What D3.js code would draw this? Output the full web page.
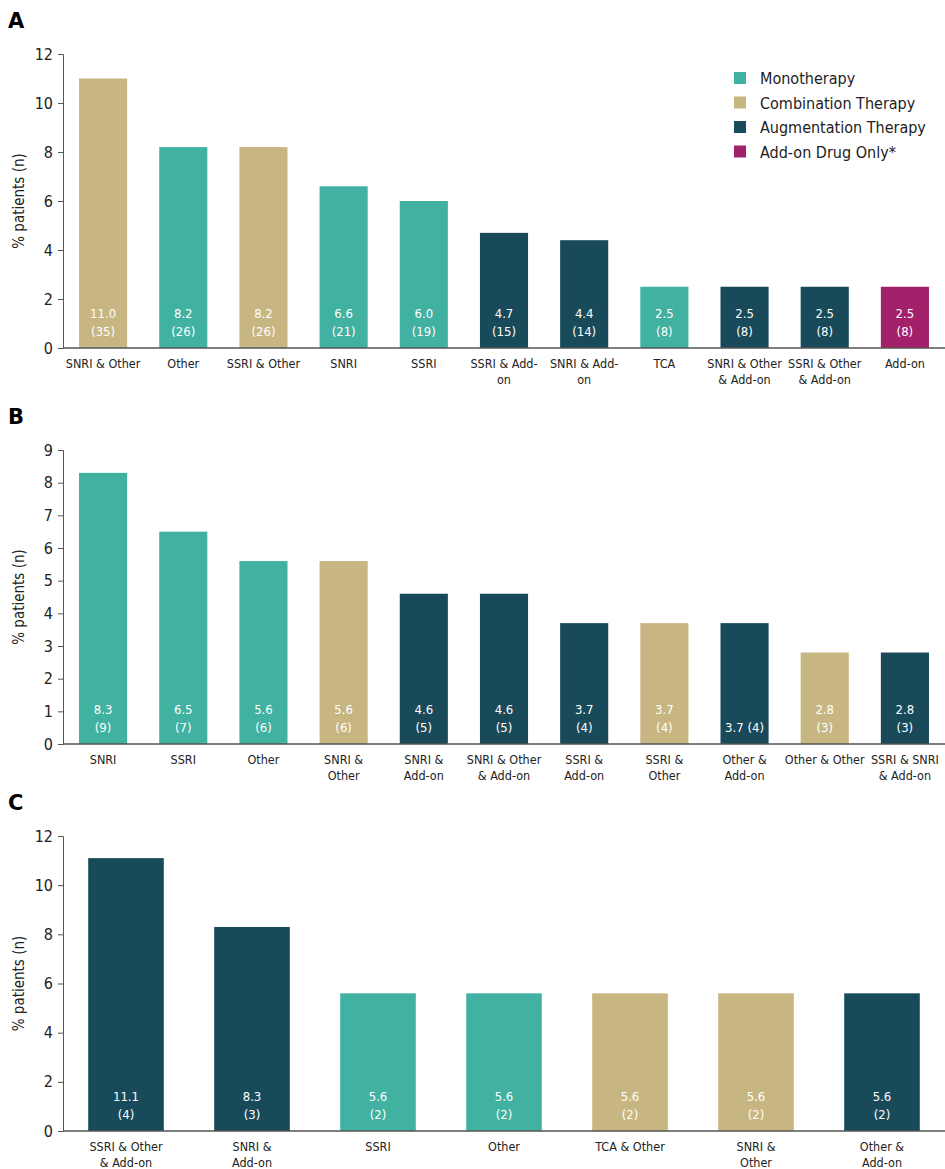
<!DOCTYPE html>
<html><head><meta charset="utf-8">
<script src="https://cdn.jsdelivr.net/npm/d3@7"></script>
<style>body{margin:0;background:#fff}</style>
</head><body>
<svg id="chart" width="945" height="1169"></svg>
<script>
var colors = {M: "#41b1a1", C: "#c8b682", A: "#184a5a", D: "#a3216a"};
var legendNames = ["Monotherapy", "Combination Therapy", "Augmentation Therapy", "Add-on Drug Only*"];
var legendKeys = ["M", "C", "A", "D"];

var catsA = [["SNRI & Other"], ["Other"], ["SSRI & Other"], ["SNRI"], ["SSRI"], ["SSRI & Add-", "on"], ["SNRI & Add-", "on"], ["TCA"], ["SNRI & Other", "& Add-on"], ["SSRI & Other", "& Add-on"], ["Add-on"]];
var valsA = [11.0, 8.2, 8.2, 6.6, 6.0, 4.7, 4.4, 2.5, 2.5, 2.5, 2.5];
var nA = [35, 26, 26, 21, 19, 15, 14, 8, 8, 8, 8];
var typA = ["C", "M", "C", "M", "M", "A", "A", "M", "A", "A", "D"];

var catsB = [["SNRI"], ["SSRI"], ["Other"], ["SNRI &", "Other"], ["SNRI &", "Add-on"], ["SNRI & Other", "& Add-on"], ["SSRI &", "Add-on"], ["SSRI &", "Other"], ["Other &", "Add-on"], ["Other & Other"], ["SSRI & SNRI", "& Add-on"]];
var valsB = [8.3, 6.5, 5.6, 5.6, 4.6, 4.6, 3.7, 3.7, 3.7, 2.8, 2.8];
var nB = [9, 7, 6, 6, 5, 5, 4, 4, 4, 3, 3];
var typB = ["M", "M", "M", "C", "A", "A", "A", "C", "A", "C", "A"];

var catsC = [["SSRI & Other", "& Add-on"], ["SNRI &", "Add-on"], ["SSRI"], ["Other"], ["TCA & Other"], ["SNRI &", "Other"], ["Other &", "Add-on"]];
var valsC = [11.1, 8.3, 5.6, 5.6, 5.6, 5.6, 5.6];
var nC = [4, 3, 2, 2, 2, 2, 2];
var typC = ["A", "A", "M", "M", "C", "C", "A"];

var svg = d3.select("#chart").style("font-family", "DejaVu Sans Condensed, DejaVu Sans");

function panel(letter, cats, vals, ns, types, yTop, y0, yMax, tickStep, oneLine) {
  var x = d3.scaleBand().domain(d3.range(cats.length)).range([63, 945]).paddingInner(0.4).paddingOuter(0.2);
  var y = d3.scaleLinear().domain([0, yMax]).range([y0, yTop]);
  var g = svg.append("g");
  g.append("text").attr("x", 8).attr("y", yTop - 26).attr("font-size", 21).attr("font-weight", "bold")
    .attr("font-family", "DejaVu Sans").text(letter);
  var ya = g.append("g").attr("transform", "translate(63,0)")
    .call(d3.axisLeft(y).tickValues(d3.range(0, yMax + 0.01, tickStep)).tickSize(5).tickFormat(d3.format("d")));
  ya.select(".domain").attr("stroke", "#555");
  ya.selectAll(".tick line").attr("stroke", "#555");
  ya.selectAll("text").attr("font-size", 16).attr("font-family", "DejaVu Sans Condensed, DejaVu Sans").attr("fill", "#222").attr("dx", -2);
  g.append("text").attr("transform", "translate(24," + ((yTop + y0) / 2) + ") rotate(-90)")
    .attr("text-anchor", "middle").attr("font-size", 15).attr("fill", "#222").text("% patients (n)");
  g.selectAll("rect").data(vals).join("rect")
    .attr("x", function (d, i) { return x(i); }).attr("width", x.bandwidth())
    .attr("y", function (d) { return y(d); }).attr("height", function (d) { return y0 - y(d); })
    .attr("fill", function (d, i) { return colors[types[i]]; });
  g.append("line").attr("x1", 63).attr("x2", 945).attr("y1", y0).attr("y2", y0).attr("stroke", "#555").attr("stroke-width", 1.5);
  vals.forEach(function (v, i) {
    var cx = x(i) + x.bandwidth() / 2;
    var t = g.append("text").attr("x", cx).attr("text-anchor", "middle").attr("font-size", 13).attr("fill", "#fff");
    if (oneLine && oneLine.indexOf(i) >= 0) {
      t.attr("y", y0 - 12).text(v.toFixed(1) + " (" + ns[i] + ")");
    } else {
      t.append("tspan").attr("x", cx).attr("y", y0 - 30).text(v.toFixed(1));
      t.append("tspan").attr("x", cx).attr("y", y0 - 12).text("(" + ns[i] + ")");
    }
    cats[i].forEach(function (line, k) {
      g.append("text").attr("x", cx).attr("y", y0 + 20 + k * 15.5).attr("text-anchor", "middle")
        .attr("font-size", 12.5).attr("fill", "#222").text(line);
    });
  });
}

panel("A", catsA, valsA, nA, typA, 54, 348, 12, 2);
panel("B", catsB, valsB, nB, typB, 450, 744, 9, 1, [8]);
panel("C", catsC, valsC, nC, typC, 836, 1131, 12, 2);

var lg = svg.append("g");
legendNames.forEach(function (name, i) {
  lg.append("rect").attr("x", 734).attr("y", 72 + i * 24.5).attr("width", 12).attr("height", 12).attr("fill", colors[legendKeys[i]]);
  lg.append("text").attr("x", 760).attr("y", 84 + i * 24.5).attr("font-size", 16).attr("fill", "#222").text(name);
});
</script>
</body></html>
